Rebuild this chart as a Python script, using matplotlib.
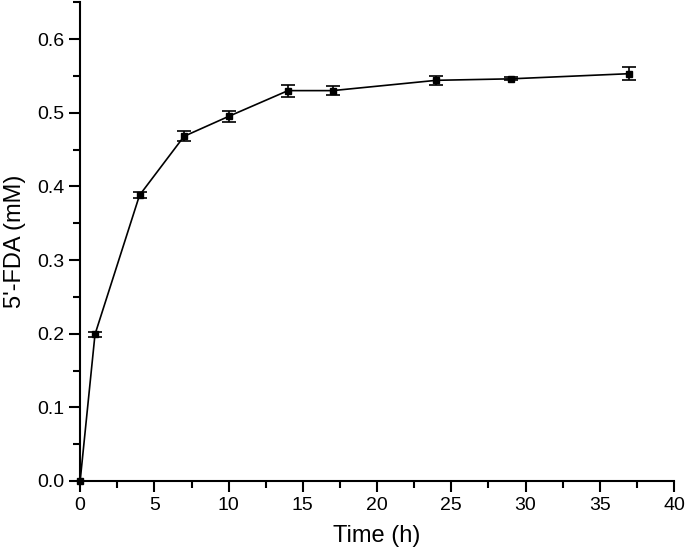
import matplotlib
matplotlib.use("Agg")
import matplotlib.pyplot as plt
from matplotlib.ticker import MultipleLocator

plt.rcParams["font.family"] = ["Liberation Sans", "DejaVu Sans"]

# dati
time_h = [0, 1, 4, 7, 10, 14, 17, 24, 29, 37]
fda_mM = [0.0, 0.199, 0.388, 0.468, 0.495, 0.530, 0.530, 0.544, 0.546, 0.553]
fda_err = [0.0, 0.003, 0.004, 0.007, 0.008, 0.008, 0.006, 0.0065, 0.002, 0.009]

fig = plt.figure(figsize=(6.85, 5.58), dpi=100)
ax = fig.add_axes([0.117, 0.138, 0.867, 0.858])

ax.errorbar(time_h, fda_mM, yerr=fda_err, color="black", marker="s", markersize=5,
            linewidth=1.2, elinewidth=1.2, capsize=5, capthick=1.2)

ax.set_xlim(0, 40)
ax.set_ylim(0, 0.65)
ax.xaxis.set_major_locator(MultipleLocator(5))
ax.xaxis.set_minor_locator(MultipleLocator(2.5))
ax.yaxis.set_minor_locator(MultipleLocator(0.05))
ax.set_yticks([0, 0.1, 0.2, 0.3, 0.4, 0.5, 0.6])
ax.set_yticklabels(["0.0", "0.1", "0.2", "0.3", "0.4", "0.5", "0.6"])

for s in ["top", "right"]:
    ax.spines[s].set_visible(False)
for s in ["left", "bottom"]:
    ax.spines[s].set_linewidth(1.5)

ax.tick_params(which="major", direction="out", length=8, width=1.5, labelsize=14)
ax.tick_params(which="minor", direction="out", length=5, width=1.5)
ax.set_xlabel("Time (h)", fontsize=17, labelpad=8)
ax.set_ylabel("5'-FDA (mM)", fontsize=17, labelpad=8)

for child in ax.get_children():
    try:
        child.set_clip_on(False)
    except Exception:
        pass

fig.savefig("out.png", dpi=100)
